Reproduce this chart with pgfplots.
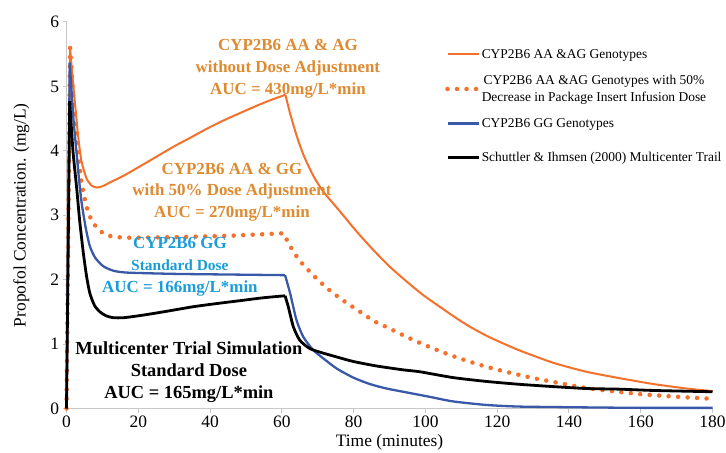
\documentclass[border=0pt]{standalone}
\usepackage{fontspec}
\setmainfont{Liberation Serif}
\usepackage{pgfplots}
\pgfplotsset{compat=1.18}
\definecolor{curveorange}{RGB}{245,112,42}
\definecolor{curveblue}{RGB}{58,88,168}
\definecolor{textorange}{RGB}{222,138,48}
\definecolor{textblue}{RGB}{28,156,214}
\definecolor{axisgray}{RGB}{200,200,200}

\begin{document}
\begin{tikzpicture}
\path[use as bounding box] (0,0) rectangle (726bp,453bp);
\begin{axis}[
  at={(66.5bp,44.5bp)}, anchor=south west,
  scale only axis, width=646bp, height=386.5bp,
  xmin=0, xmax=180, ymin=0, ymax=6,
  axis x line=bottom, axis y line=left,
  axis line style={-, draw=axisgray, line width=1.3bp},
  tick style={axisgray, line width=1bp}, tick align=outside,
  major tick length=4bp,
  xtick={0,20,...,180}, ytick={0,1,...,6},
  /pgf/number format/assume math mode=true,
  ticklabel style={font=\fontsize{17.5}{20}\selectfont, text=black},
  label style={font=\fontsize{17.5}{20}\selectfont},
  xlabel={Time (minutes)},
  ylabel={Propofol Concentration. (mg/L)},
  ylabel shift=14bp,
  clip=false,
  every axis plot/.append style={line join=round},
  legend image code/.code={\draw[#1] (0bp,0bp) -- (31bp,0bp);},
  legend cell align=left,
  legend style={at={(rel axis cs:0.586,0.953)}, anchor=north west,
    draw=none, fill=none, inner sep=0pt, row sep=6bp,
    font=\fontsize{13.5}{16.5}\selectfont,
    nodes={inner xsep=1bp, inner ysep=1bp, minimum height=28bp},
    cells={align=center}},
]
% CYP2B6 AA & AG, standard dose (bolus, infusion, washout)
\addplot[curveorange, line width=2bp, forget plot] coordinates {(0,0) (1,5.58)};
\addplot[curveorange, line width=2bp, smooth, tension=0.4, forget plot] coordinates {
(1,5.58) (1.6,5.2) (2.4,4.72) (3.3,4.2) (4.2,3.83) (5.6,3.57) (7,3.46)
(8.4,3.43) (10,3.45) (12.5,3.52) (15.8,3.61) (20.5,3.76) (25.1,3.91) (30,4.07)
(34.4,4.2) (39,4.34) (43.7,4.47) (48.5,4.59) (53,4.7) (57,4.79) (61,4.87)};
\addplot[curveorange, line width=2bp, smooth, tension=0.4] coordinates {
(61,4.87) (62.3,4.58) (64.1,4.24) (66,3.94) (68.7,3.62) (71.5,3.37) (76.2,3.06)
(80.8,2.75) (85.5,2.46) (90.1,2.20) (94.8,1.97) (99.4,1.76) (104,1.58)
(108.7,1.40) (112.4,1.27) (117,1.13) (121.7,1.01) (126.3,0.90) (135.6,0.71)
(144.9,0.57) (154.2,0.47) (163.5,0.38) (172.8,0.31) (180,0.27)};
\addlegendentry{CYP2B6 AA \&AG Genotypes}
% CYP2B6 AA & AG, 50% dose
\addplot[curveorange, line width=4.5bp, line cap=round, dash pattern=on 0bp off 9.5bp] coordinates {
(0,0) (1,5.6) (1.7,5.0) (2.4,4.48) (3.3,3.9) (4.2,3.5) (5.2,3.22) (6,3.05)
(7,2.92) (8.5,2.8) (10.2,2.72) (12,2.68) (14,2.66) (18,2.65) (30,2.66) (45,2.68)
(56.7,2.71) (60.5,2.72) (61.8,2.57) (63.6,2.40) (65.5,2.26) (68.7,2.07)
(72.5,1.87) (76.7,1.69) (81.3,1.52) (85.5,1.36) (90.1,1.24) (94.8,1.11)
(99.6,0.99) (104.5,0.88) (109.4,0.78) (114.4,0.69) (119.5,0.61) (124.7,0.54)
(129.8,0.475) (134.9,0.42) (140,0.365) (145,0.315) (150.2,0.28) (155.3,0.25)
(160.4,0.22) (165.5,0.20) (170.6,0.18) (180,0.15)};
\addlegendentry{CYP2B6 AA \&AG Genotypes with 50\%\\Decrease in Package Insert Infusion Dose}
% CYP2B6 GG
\addplot[curveblue, line width=2.3bp, forget plot] coordinates {(0,0) (0.9,5.37)};
\addplot[curveblue, line width=2.3bp, smooth, tension=0.4, forget plot] coordinates {
(0.9,5.37) (1.5,4.85) (2,4.45) (2.8,3.97) (3.5,3.55) (4.2,3.2) (5.3,2.82)
(6.5,2.52) (8,2.34) (10.2,2.21) (13,2.14) (16.8,2.11) (30,2.09) (45,2.08)
(60.9,2.07)};
\addplot[curveblue, line width=2.3bp, smooth, tension=0.4] coordinates {
(60.9,2.07) (62.3,1.79) (64.1,1.37) (66,1.11) (68.7,0.91) (71.5,0.78) (75.3,0.62)
(79.9,0.48) (84.5,0.38) (89.2,0.31) (95.7,0.24) (101.3,0.18) (107.7,0.11)
(117,0.055) (126,0.03) (140,0.02) (160,0.01) (180,0.01)};
\addlegendentry{CYP2B6 GG Genotypes}
% Schuttler & Ihmsen multicenter trial
\addplot[black, line width=2.8bp, forget plot] coordinates {(0,0) (0.9,4.77)};
\addplot[black, line width=2.8bp, smooth, tension=0.4, forget plot] coordinates {
(0.9,4.77) (1.8,4.0) (2.8,3.44) (3.7,2.9) (4.7,2.41) (5.6,2.05) (6.5,1.79)
(7.8,1.6) (9.3,1.50) (11,1.44) (13,1.41) (16,1.41) (21.4,1.45) (28,1.51)
(35.3,1.58) (42,1.63) (49.2,1.68) (55,1.72) (60.9,1.75)};
\addplot[black, line width=2.8bp, smooth, tension=0.4] coordinates {
(60.9,1.75) (61.8,1.58) (63.2,1.27) (65,1.06) (67.8,0.93) (71.5,0.86) (75.3,0.80)
(79.9,0.73) (86.4,0.66) (93.8,0.60) (98.5,0.57) (107.7,0.48) (117,0.42)
(126.3,0.375) (135.6,0.34) (144.9,0.31) (154.2,0.30) (163.5,0.28) (180,0.26)};
\addlegendentry{Schuttler \& Ihmsen (2000) Multicenter Trail}

\node[font=\bfseries\fontsize{17}{22}\selectfont, text=textorange, align=center]
  at (axis cs:61.7,5.27) {CYP2B6 AA \& AG\\without Dose Adjustment\\AUC = 430mg/L*min};
\node[font=\bfseries\fontsize{17}{21.5}\selectfont, text=textorange, align=center]
  at (axis cs:46.1,3.36) {CYP2B6 AA \& GG\\with 50\% Dose Adjustment\\AUC = 270mg/L*min};
\node[font=\bfseries\fontsize{17}{22}\selectfont, text=textblue, align=center]
  at (axis cs:31.6,2.20) {CYP2B6 GG\\{\fontsize{15.5}{22}\selectfont Standard Dose}\\AUC = 166mg/L*min};
\node[font=\bfseries\fontsize{18.5}{22}\selectfont, text=black, align=center]
  at (axis cs:34.1,0.57) {Multicenter Trial Simulation\\Standard Dose\\AUC = 165mg/L*min};
\end{axis}
\end{tikzpicture}
\end{document}
